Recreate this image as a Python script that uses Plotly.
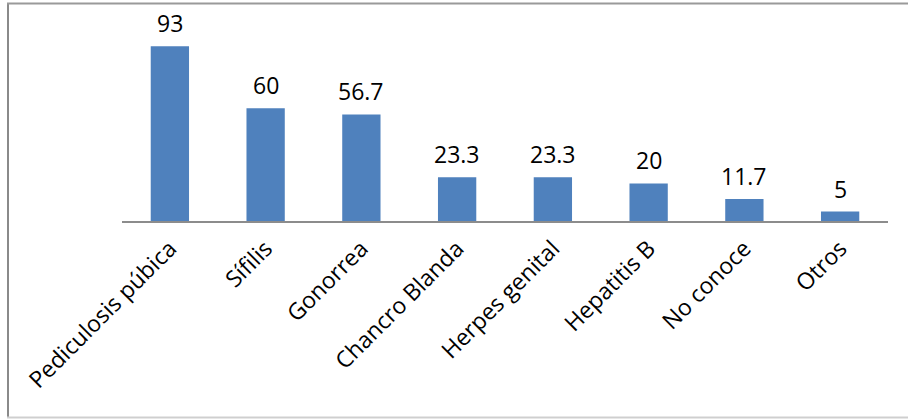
import plotly.graph_objects as go

categories = ["Pediculosis púbica", "Sífilis", "Gonorrea", "Chancro Blanda",
              "Herpes genital", "Hepatitis B", "No conoce", "Otros"]
values = [93, 60, 56.7, 23.3, 23.3, 20, 11.7, 5]
value_labels = ["93", "60", "56.7", "23.3", "23.3", "20", "11.7", "5"]

W, H = 908, 419
ml, mr, mt, mb = 122, 20, 33, 198
pw = W - ml - mr
ph = H - mt - mb

def px(x):
    return (x - ml) / pw

def py(y):
    return (H - mb - y) / ph

FONT = "Open Sans, Carlito, sans-serif"

fig = go.Figure(go.Bar(
    x=categories, y=values,
    marker=dict(color="#4F81BD", line=dict(color="#4F81BD", width=0)),
))

for c, v, t in zip(categories, values, value_labels):
    fig.add_annotation(x=c, y=v, text=t, showarrow=False, yanchor="bottom",
                       yshift=5, font=dict(family=FONT, size=23, color="#000000"))

fig.update_layout(
    width=W, height=H,
    margin=dict(l=ml, r=mr, t=mt, b=mb, pad=0),
    paper_bgcolor="white", plot_bgcolor="white",
    bargap=0.6, showlegend=False,
    xaxis=dict(showline=True, linecolor="#8C8C8C", linewidth=2, ticks="outside",
               ticklen=3, tickcolor="rgba(0,0,0,0)",
               tickangle=-45, showgrid=False,
               tickfont=dict(family=FONT, size=23, color="#000000")),
    yaxis=dict(range=[0, 100], visible=False, showgrid=False, zeroline=False),
    shapes=[
        dict(type="line", xref="paper", yref="paper", x0=px(8), x1=px(8), y0=py(3), y1=py(417),
             line=dict(color="#8A8A8A", width=2)),
        dict(type="line", xref="paper", yref="paper", x0=px(7), x1=px(910), y0=py(3.5), y1=py(3.5),
             line=dict(color="#9A9A9A", width=2)),
        dict(type="line", xref="paper", yref="paper", x0=px(7), x1=px(910), y0=py(417.5), y1=py(417.5),
             line=dict(color="#CFCFCF", width=2)),
    ],
)

fig.write_html("out.html")
